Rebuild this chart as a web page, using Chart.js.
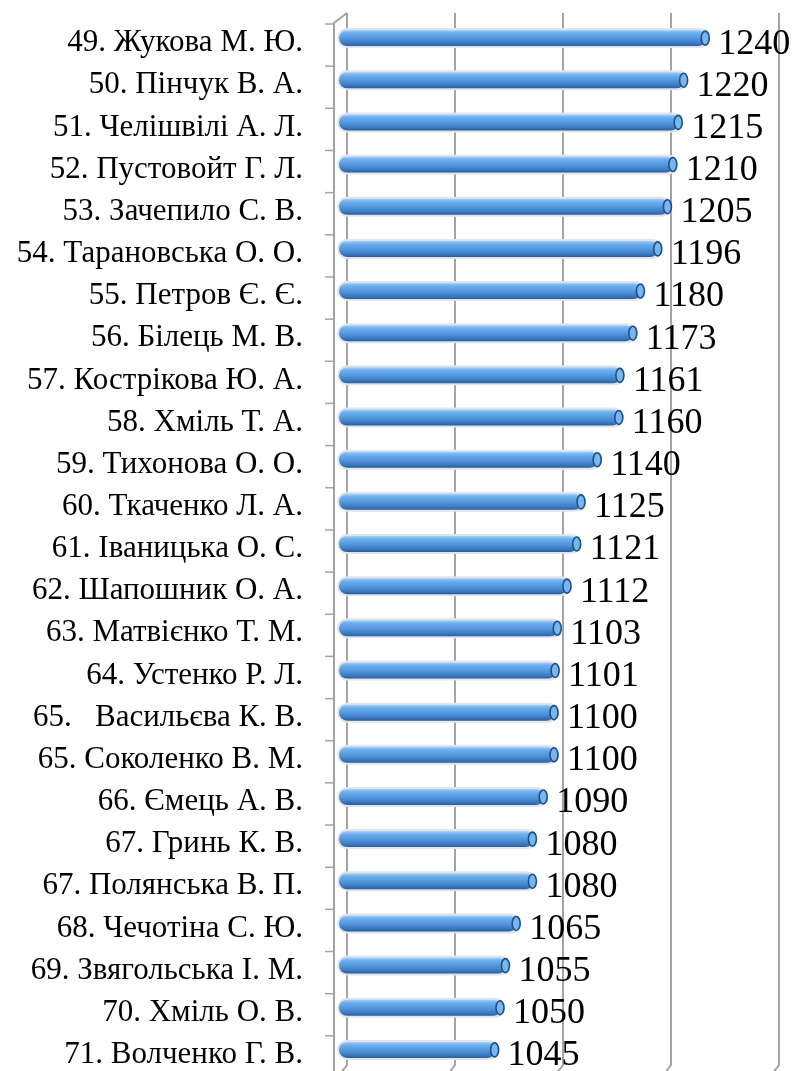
<!DOCTYPE html>
<html>
<head>
<meta charset="utf-8">
<script src="https://cdn.jsdelivr.net/npm/chart.js@4.4.1/dist/chart.umd.min.js"></script>
<style>
  html, body { margin: 0; padding: 0; background: #fff; }
  #wrap { width: 798px; height: 1071px; }
</style>
</head>
<body>
<div id="wrap"><canvas id="rankChart"></canvas></div>
<script>
const names = [
  '49. Жукова М. Ю.', '50. Пінчук В. А.', '51. Челішвілі А. Л.', '52. Пустовойт Г. Л.',
  '53. Зачепило С. В.', '54. Тарановська О. О.', '55. Петров Є. Є.', '56. Білець М. В.',
  '57. Кострікова Ю. А.', '58. Хміль Т. А.', '59. Тихонова О. О.', '60. Ткаченко Л. А.',
  '61. Іваницька О. С.', '62. Шапошник О. А.', '63. Матвієнко Т. М.', '64. Устенко Р. Л.',
  '65.   Васильєва К. В.', '65. Соколенко В. М.', '66. Ємець А. В.', '67. Гринь К. В.',
  '67. Полянська В. П.', '68. Чечотіна С. Ю.', '69. Звягольська І. М.', '70. Хміль О. В.',
  '71. Волченко Г. В.'
];
const scores = [
  1240, 1220, 1215, 1210, 1205, 1196, 1180, 1173, 1161, 1160, 1140, 1125, 1121,
  1112, 1103, 1101, 1100, 1100, 1090, 1080, 1080, 1065, 1055, 1050, 1045
];
const axisMin = 900;
const axisMax = 1300;
const gridValues = [900, 1000, 1100, 1200, 1300];

const DEPTH = 8; // back wall offset

// 3D-ish walls: gridlines, left axis and category ticks
const wallPlugin = {
  id: 'walls',
  beforeDatasetsDraw(chart) {
    const { ctx, chartArea, scales } = chart;
    const x = scales.x, y = scales.y;
    ctx.save();
    ctx.strokeStyle = '#a3a3a3';
    ctx.lineWidth = 2;
    const topY = chartArea.top - 4;
    const botY = chartArea.bottom;
    gridValues.forEach(v => {
      const px = x.getPixelForValue(v);
      ctx.beginPath();
      ctx.moveTo(px + DEPTH, topY);
      ctx.lineTo(px + DEPTH, botY - 6);
      ctx.lineTo(px + 2, botY + 2);
      ctx.stroke();
    });
    // left axis line + corner
    const ax = chartArea.left - 5;
    ctx.beginPath();
    ctx.moveTo(ax, botY + 2);
    ctx.lineTo(ax, topY + 10);
    ctx.lineTo(x.getPixelForValue(axisMin) + DEPTH, topY);
    ctx.stroke();
    // category ticks
    ctx.lineWidth = 1.5;
    const step = (y.bottom - y.top) / names.length;
    for (let i = 0; i <= names.length; i++) {
      const ty = y.top + step * i + 7;
      ctx.beginPath();
      ctx.moveTo(ax - 9, ty);
      ctx.lineTo(ax, ty);
      ctx.stroke();
    }
    ctx.restore();
  }
};

// cylinder bars and value labels
const cylinderPlugin = {
  id: 'cylinders',
  afterDatasetsDraw(chart) {
    const { ctx } = chart;
    const meta = chart.getDatasetMeta(0);
    ctx.save();
    meta.data.forEach((bar, i) => {
      const left = bar.base;
      const right = bar.x;
      const h = bar.height;
      const top = bar.y - h / 2;
      const r = h / 2;
      // white/grey halo
      ctx.beginPath();
      ctx.roundRect(left - 2, top - 2, right - left + 6, h + 4, r + 2);
      ctx.fillStyle = '#dfe5ec';
      ctx.fill();
      // body
      const g = ctx.createLinearGradient(0, top, 0, top + h);
      g.addColorStop(0, '#a9d0f5');
      g.addColorStop(0.18, '#6eb0ef');
      g.addColorStop(0.5, '#5499de');
      g.addColorStop(0.82, '#3b79c0');
      g.addColorStop(1, '#2b5d97');
      ctx.beginPath();
      ctx.roundRect(left, top, right - left, h, r);
      ctx.fillStyle = g;
      ctx.fill();
      // end cap
      ctx.beginPath();
      ctx.ellipse(right - 1, bar.y, 4, r - 1, 0, 0, Math.PI * 2);
      ctx.fillStyle = '#79b6ee';
      ctx.fill();
      ctx.lineWidth = 1.6;
      ctx.strokeStyle = '#1f4f86';
      ctx.stroke();
      // label
      ctx.fillStyle = '#000';
      ctx.font = '36px "Liberation Serif", "Times New Roman", serif';
      ctx.textAlign = 'left';
      ctx.textBaseline = 'middle';
      ctx.fillText(String(scores[i]), right + 12, bar.y + 6);
    });
    ctx.restore();
  }
};

new Chart(document.getElementById('rankChart'), {
  type: 'bar',
  data: {
    labels: names,
    datasets: [{
      data: scores,
      base: axisMin,
      backgroundColor: 'rgba(0,0,0,0)',
      borderWidth: 0,
      barThickness: 16
    }]
  },
  options: {
    indexAxis: 'y',
    responsive: true,
    maintainAspectRatio: false,
    animation: false,
    layout: { padding: { top: 17, right: 27, bottom: 0, left: 0 } },
    plugins: {
      legend: { display: false },
      tooltip: { enabled: false }
    },
    scales: {
      x: {
        display: false,
        min: axisMin,
        max: axisMax
      },
      y: {
        afterFit(scale) {
          scale.width = 339;
          scale.paddingTop = 0;
          scale.paddingBottom = 0;
        },
        grid: { display: false, drawTicks: false },
        border: { display: false },
        ticks: {
          autoSkip: false,
          padding: 36,
          labelOffset: 5,
          color: '#000',
          font: { family: '"Liberation Serif", "Times New Roman", serif', size: 31 }
        }
      }
    }
  },
  plugins: [wallPlugin, cylinderPlugin]
});
</script>
</body>
</html>
